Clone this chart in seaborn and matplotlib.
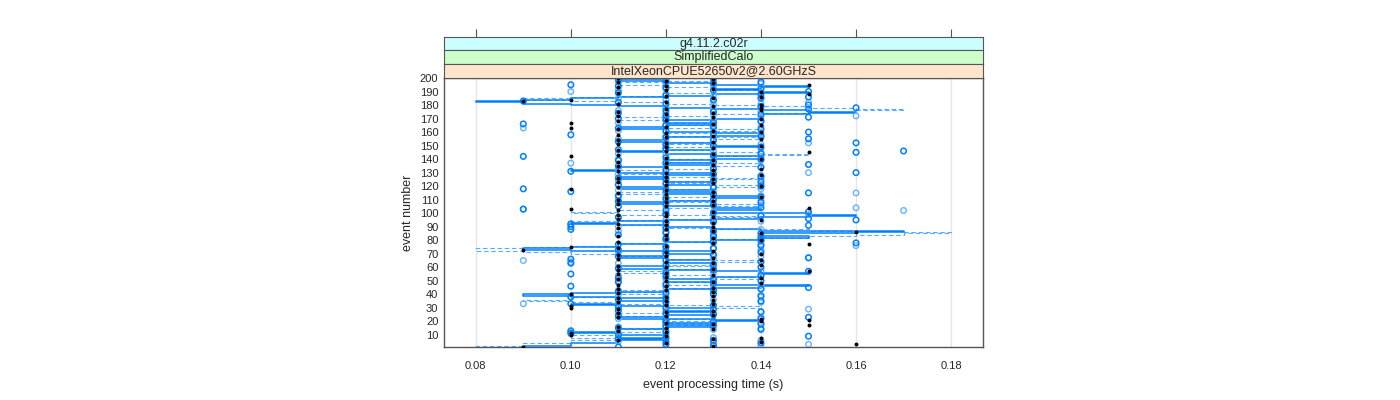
import matplotlib
matplotlib.use("Agg")
import matplotlib.pyplot as plt
import seaborn as sns
import numpy as np
import pandas as pd

# event processing times in units of 0.01 s, events 1..200
# black dots
ref_times = [
    9, 13, 16, 12, 14, 11, 13, 14, 12, 10,
    10, 12, 11, 13, 12, 11, 15, 13, 12, 14,
    15, 14, 11, 12, 13, 11, 12, 13, 11, 10,
    10, 12, 13, 11, 12, 13, 11, 12, 13, 10,
    11, 13, 12, 11, 13, 12, 11, 14, 13, 12,
    11, 14, 12, 13, 11, 12, 15, 11, 13, 12,
    11, 14, 13, 12, 14, 11, 13, 12, 11, 14,
    12, 13, 9, 11, 10, 12, 15, 13, 11, 14,
    12, 13, 11, 12, 14, 16, 13, 12, 11, 13,
    12, 11, 13, 12, 14, 11, 13, 12, 11, 12,
    13, 11, 10, 15, 12, 13, 11, 12, 13, 11,
    12, 14, 13, 12, 11, 13, 12, 10, 11, 14,
    12, 13, 11, 12, 13, 11, 12, 14, 13, 12,
    11, 13, 14, 12, 11, 13, 12, 11, 13, 14,
    12, 10, 11, 13, 15, 12, 11, 13, 12, 14,
    11, 12, 13, 11, 14, 12, 13, 11, 12, 14,
    13, 11, 10, 12, 14, 13, 10, 11, 12, 14,
    13, 11, 12, 13, 11, 14, 12, 14, 13, 14,
    11, 12, 9, 10, 13, 14, 12, 15, 11, 14,
    12, 13, 11, 12, 15, 13, 11, 12, 13, 11,
]

# open circles, first repeat run
run_a_times = [
    11, 13, 12, 14, 12, 13, 11, 12, 15, 11,
    10, 12, 10, 14, 11, 12, 13, 14, 12, 13,
    12, 14, 15, 11, 13, 12, 14, 11, 13, 12,
    11, 13, 10, 12, 14, 11, 12, 10, 14, 13,
    12, 11, 13, 14, 15, 10, 12, 13, 11, 14,
    13, 11, 12, 14, 10, 12, 15, 13, 11, 14,
    12, 13, 10, 14, 12, 10, 15, 11, 13, 12,
    14, 12, 11, 13, 12, 14, 11, 16, 13, 14,
    12, 14, 13, 11, 14, 12, 13, 10, 12, 10,
    15, 10, 12, 13, 16, 15, 11, 14, 12, 13,
    15, 12, 9, 14, 11, 13, 12, 14, 11, 13,
    12, 14, 11, 13, 15, 10, 12, 9, 13, 14,
    11, 12, 14, 13, 12, 11, 14, 12, 13, 16,
    10, 12, 13, 14, 11, 15, 12, 13, 11, 14,
    12, 9, 13, 14, 16, 17, 11, 12, 14, 13,
    12, 16, 11, 13, 15, 12, 14, 10, 13, 15,
    12, 14, 11, 13, 12, 9, 13, 14, 12, 11,
    15, 12, 14, 11, 13, 12, 15, 16, 14, 15,
    12, 11, 9, 13, 14, 15, 12, 14, 11, 15,
    13, 14, 12, 11, 10, 13, 14, 12, 11, 13,
]

# open circles, second repeat run (lighter)
run_b_times = [
    12, 14, 15, 13, 11, 14, 12, 13, 11, 12,
    11, 10, 12, 13, 14, 11, 12, 13, 14, 12,
    13, 11, 14, 12, 11, 13, 14, 12, 15, 11,
    12, 11, 9, 14, 12, 13, 11, 14, 12, 11,
    13, 12, 11, 14, 12, 13, 14, 12, 13, 11,
    12, 13, 14, 11, 12, 13, 14, 12, 13, 11,
    13, 12, 11, 10, 9, 13, 15, 14, 12, 13,
    11, 12, 14, 13, 12, 16, 14, 13, 14, 12,
    13, 12, 14, 13, 12, 13, 11, 14, 12, 11,
    12, 10, 13, 14, 12, 13, 11, 14, 15, 12,
    13, 17, 9, 16, 12, 14, 13, 11, 14, 12,
    13, 11, 14, 12, 16, 13, 11, 14, 12, 13,
    14, 12, 13, 11, 14, 12, 13, 14, 11, 15,
    12, 13, 11, 14, 12, 13, 10, 12, 14, 11,
    13, 14, 12, 11, 14, 13, 12, 14, 13, 12,
    14, 15, 12, 13, 11, 14, 12, 13, 14, 12,
    11, 13, 9, 14, 12, 13, 11, 14, 13, 12,
    14, 16, 13, 12, 14, 11, 13, 12, 14, 13,
    14, 15, 13, 12, 11, 14, 13, 12, 14, 10,
    11, 12, 14, 13, 12, 14, 11, 13, 12, 14,
]

# step traces (solid and dashed)
trace_solid = [
    9, 10, 10, 11, 11, 12, 11, 12, 12, 11,
    10, 11, 11, 12, 12, 13, 12, 12, 13, 14,
    13, 11, 12, 12, 13, 13, 12, 13, 13, 12,
    11, 10, 11, 11, 12, 12, 11, 10, 9, 10,
    11, 12, 12, 13, 14, 15, 13, 13, 12, 12,
    13, 13, 14, 14, 15, 14, 13, 12, 11, 11,
    12, 12, 13, 13, 12, 12, 11, 12, 12, 13,
    13, 10, 9, 10, 11, 11, 12, 12, 13, 14,
    14, 15, 14, 14, 16, 17, 14, 13, 13, 12,
    11, 10, 11, 12, 13, 14, 15, 16, 15, 13,
    13, 14, 14, 13, 12, 12, 11, 12, 13, 13,
    14, 14, 13, 12, 12, 13, 12, 11, 12, 12,
    13, 13, 12, 12, 11, 11, 12, 13, 13, 11,
    10, 11, 11, 12, 12, 13, 12, 12, 13, 14,
    14, 13, 13, 12, 11, 12, 13, 13, 14, 13,
    13, 12, 11, 12, 12, 13, 14, 14, 13, 12,
    12, 11, 11, 12, 13, 13, 12, 12, 13, 14,
    14, 14, 15, 16, 15, 14, 13, 12, 11, 10,
    9, 8, 9, 10, 11, 12, 13, 14, 15, 14,
    13, 14, 15, 14, 13, 12, 12, 11, 12, 11,
]

trace_dashed = [
    8, 9, 9, 10, 10, 11, 11, 10, 10, 11,
    11, 12, 12, 11, 12, 12, 13, 13, 12, 13,
    13, 12, 12, 11, 11, 12, 12, 13, 13, 14,
    13, 12, 11, 10, 9, 10, 10, 11, 11, 12,
    12, 11, 12, 12, 13, 13, 12, 12, 13, 13,
    14, 14, 13, 12, 12, 11, 12, 12, 13, 13,
    12, 13, 13, 14, 13, 12, 12, 11, 11, 10,
    9, 8, 8, 9, 10, 11, 11, 12, 13, 13,
    14, 15, 16, 17, 18, 17, 15, 13, 12, 12,
    11, 11, 10, 11, 12, 13, 14, 13, 11, 10,
    11, 12, 12, 13, 14, 14, 13, 12, 12, 13,
    13, 12, 12, 11, 11, 12, 12, 13, 14, 14,
    13, 12, 12, 13, 14, 13, 12, 12, 11, 11,
    11, 12, 13, 13, 14, 14, 13, 12, 12, 13,
    13, 14, 15, 14, 13, 13, 12, 12, 13, 13,
    12, 12, 13, 13, 14, 13, 12, 12, 13, 13,
    14, 13, 12, 12, 13, 13, 12, 12, 11, 11,
    12, 13, 14, 15, 16, 17, 16, 15, 14, 13,
    12, 11, 10, 9, 10, 11, 12, 12, 13, 13,
    14, 13, 12, 12, 11, 11, 12, 13, 13, 12,
]

strip_labels = ["g4.11.2.c02r", "SimplifiedCalo", "IntelXeonCPUE52650v2@2.60GHzS"]
strip_colors = ["#CCFFFF", "#CCFFCC", "#FFE5CC"]
x_ticks = [0.08, 0.10, 0.12, 0.14, 0.16, 0.18]
y_ticks = list(range(10, 201, 10))

events = np.arange(1, 201)
df = pd.DataFrame({
    "event": events,
    "ref": np.array(ref_times) / 100,
    "run_a": np.array(run_a_times) / 100,
    "run_b": np.array(run_b_times) / 100,
    "solid": np.array(trace_solid) / 100,
    "dashed": np.array(trace_dashed) / 100,
})

sns.set_style("white")
plt.rcParams["font.family"] = ["Liberation Sans", "DejaVu Sans"]

blue = "#0080FF"
fig = plt.figure(figsize=(14, 4), dpi=100)
ax = fig.add_axes([0.3171, 0.1325, 0.385, 0.6725])

for xt in x_ticks:
    ax.axvline(xt, color="#e6e6e6", lw=1, zorder=0)

# step traces
sns.lineplot(data=df, x="dashed", y="event", sort=False, estimator=None,
             drawstyle="steps-pre", color="#5aaaff", lw=0.8, ls=(0, (4, 2.5)),
             ax=ax)
sns.lineplot(data=df, x="solid", y="event", sort=False, estimator=None,
             drawstyle="steps-pre", color=blue, lw=1.1, ax=ax)

# points
sns.scatterplot(data=df, x="run_b", y="event", marker="o", s=16,
                facecolors="none", edgecolor="#66b2ff", linewidth=1.0, ax=ax, zorder=3)
sns.scatterplot(data=df, x="run_a", y="event", marker="o", s=16,
                facecolors="none", edgecolor=blue, linewidth=1.1, ax=ax, zorder=4)
sns.scatterplot(data=df, x="ref", y="event", marker="o", s=8,
                color="black", edgecolor="black", linewidth=0, ax=ax, zorder=5)

ax.set_xlim(0.0733, 0.1867)
ax.set_ylim(1, 200)
ax.set_xticks(x_ticks)
ax.set_xticklabels([f"{t:.2f}" for t in x_ticks])
ax.set_yticks(y_ticks)
ax.tick_params(axis="x", direction="out", length=4, width=0.8, labelsize=8, pad=6,
               color="#555555")
ax.tick_params(axis="y", length=0, labelsize=8, pad=4)
ax.set_xlabel("event processing time (s)", fontsize=9, labelpad=6)
ax.set_ylabel("event number", fontsize=9, labelpad=4)
for sp in ax.spines.values():
    sp.set_color("#555555")
    sp.set_linewidth(1)

# strips above the panel
strip_h = 0.0345
for i, (lab, col) in enumerate(zip(strip_labels, strip_colors)):
    bottom = 0.805 + (2 - i) * strip_h
    sax = fig.add_axes([0.3171, bottom, 0.385, strip_h])
    sax.set_facecolor(col)
    sax.set_xlim(0.0733, 0.1867)
    sax.set_yticks([])
    sax.text(0.5, 0.5, lab, ha="center", va="center", fontsize=9,
             transform=sax.transAxes)
    if i == 0:
        sax.set_xticks(x_ticks)
        sax.xaxis.tick_top()
        sax.tick_params(axis="x", direction="out", length=6, width=0.8,
                        labeltop=False, color="#555555")
    else:
        sax.set_xticks([])
    for sp in sax.spines.values():
        sp.set_color("#555555")
        sp.set_linewidth(0.8)

fig.savefig("out.png", dpi=100)
